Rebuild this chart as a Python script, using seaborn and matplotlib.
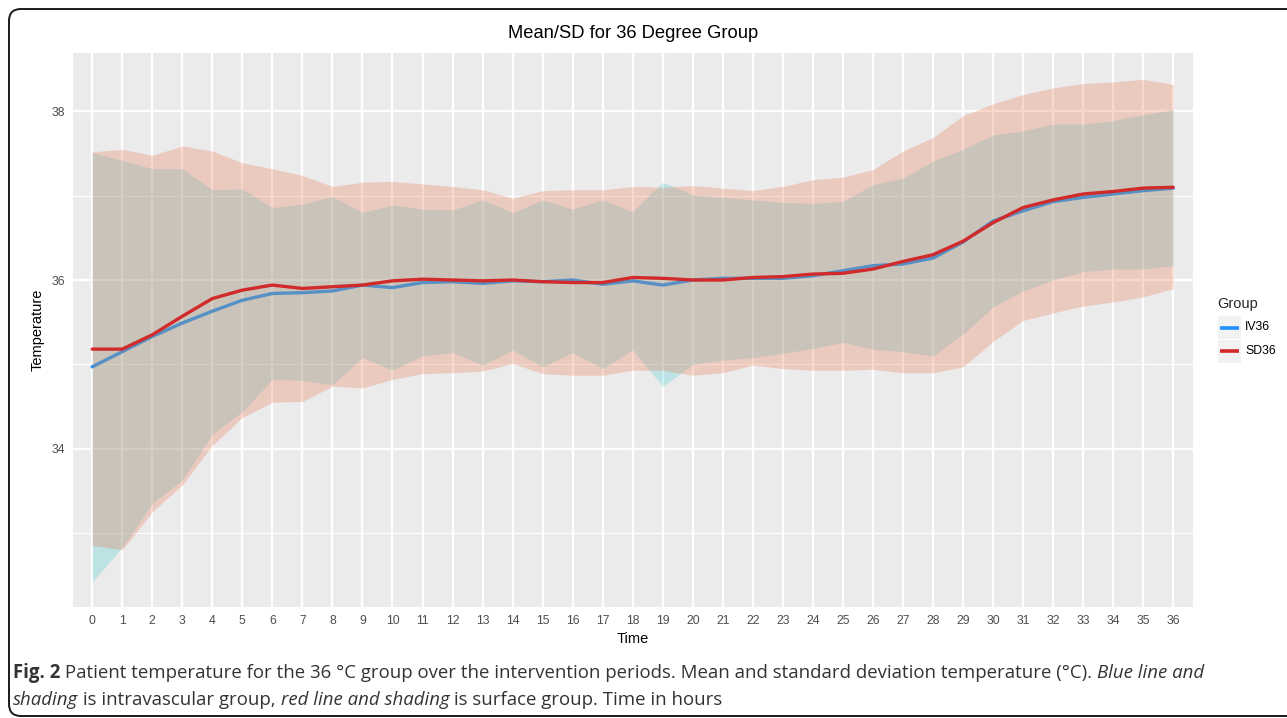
import matplotlib
matplotlib.use("Agg")
import matplotlib.pyplot as plt
import seaborn as sns
import pandas as pd
from matplotlib.patches import FancyBboxPatch, Rectangle
from matplotlib.lines import Line2D
from matplotlib.transforms import IdentityTransform

# Data: mean and mean +/- SD per hour
hours = list(range(37))

iv_mean = [34.97, 35.15, 35.33, 35.49, 35.63, 35.76, 35.84, 35.85, 35.87, 35.94,
           35.91, 35.97, 35.98, 35.96, 35.99, 35.98, 36.00, 35.95, 35.99, 35.94,
           36.00, 36.02, 36.02, 36.02, 36.05, 36.11, 36.17, 36.19, 36.26, 36.45,
           36.70, 36.82, 36.93, 36.98, 37.02, 37.06, 37.09]
iv_upper = [37.51, 37.42, 37.32, 37.32, 37.07, 37.08, 36.86, 36.90, 36.99, 36.80,
            36.89, 36.84, 36.83, 36.95, 36.80, 36.95, 36.84, 36.95, 36.81, 37.16,
            37.01, 36.98, 36.95, 36.92, 36.91, 36.93, 37.13, 37.21, 37.41, 37.55,
            37.72, 37.77, 37.85, 37.85, 37.89, 37.96, 38.02]
iv_lower = [32.42, 32.83, 33.35, 33.63, 34.17, 34.44, 34.82, 34.81, 34.76, 35.08,
            34.93, 35.10, 35.14, 34.99, 35.17, 34.97, 35.14, 34.95, 35.17, 34.74,
            35.00, 35.05, 35.08, 35.13, 35.19, 35.26, 35.18, 35.15, 35.10, 35.36,
            35.68, 35.87, 36.00, 36.10, 36.13, 36.13, 36.17]

sd_mean = [35.18, 35.18, 35.35, 35.57, 35.78, 35.88, 35.94, 35.90, 35.92, 35.94,
           35.99, 36.01, 36.00, 35.99, 36.00, 35.98, 35.97, 35.97, 36.03, 36.02,
           36.00, 36.00, 36.03, 36.04, 36.07, 36.08, 36.13, 36.22, 36.30, 36.46,
           36.68, 36.86, 36.95, 37.02, 37.05, 37.09, 37.10]
sd_upper = [37.52, 37.55, 37.48, 37.59, 37.53, 37.39, 37.32, 37.24, 37.11, 37.16,
            37.17, 37.14, 37.11, 37.07, 36.97, 37.06, 37.07, 37.07, 37.11, 37.10,
            37.12, 37.09, 37.06, 37.11, 37.19, 37.22, 37.31, 37.53, 37.69, 37.95,
            38.09, 38.20, 38.28, 38.33, 38.35, 38.38, 38.32]
sd_lower = [32.85, 32.80, 33.25, 33.57, 34.04, 34.37, 34.55, 34.56, 34.74, 34.72,
            34.82, 34.89, 34.90, 34.92, 35.01, 34.89, 34.87, 34.87, 34.93, 34.93,
            34.87, 34.90, 34.99, 34.95, 34.93, 34.93, 34.94, 34.90, 34.90, 34.97,
            35.27, 35.52, 35.61, 35.69, 35.74, 35.80, 35.90]

groups = ["IV36", "SD36"]
y_major = [34, 36, 38]
y_minor = [33, 35, 37]

df = pd.DataFrame({
    "Time": hours * 2,
    "Temperature": iv_mean + sd_mean,
    "Group": ["IV36"] * len(hours) + ["SD36"] * len(hours),
})

W, H = 1287, 718
line_colors = {"IV36": "#1e90ff", "SD36": "#d12a2a"}

sns.set_theme(style="darkgrid")
plt.rcParams["font.family"] = ["Liberation Sans", "DejaVu Sans"]

fig = plt.figure(figsize=(W / 100, H / 100), dpi=100, facecolor="white")
ax = fig.add_axes([73 / W, (H - 607) / H, 1120 / W, 554 / H])
ax.set_facecolor("#ebebeb")

# ribbons (SD shading)
ax.fill_between(hours, iv_lower, iv_upper, color="#00bfc4", alpha=0.2, lw=0, zorder=2)
ax.fill_between(hours, sd_lower, sd_upper, color="#e97c5a", alpha=0.3, lw=0, zorder=3)

# mean lines
sns.lineplot(data=df[df["Group"] == "IV36"], x="Time", y="Temperature",
             color=line_colors["IV36"], lw=2.4, ax=ax, zorder=1.8)
sns.lineplot(data=df[df["Group"] == "SD36"], x="Time", y="Temperature",
             color=line_colors["SD36"], lw=2.4, ax=ax, zorder=4)

ax.set_xlim(-0.64, 36.66)
ax.set_ylim(32.121, 38.693)
ax.set_xticks(hours)
ax.set_yticks(y_major)
ax.set_yticks(y_minor, minor=True)
ax.set_axisbelow(True)
ax.grid(which="major", color="white", lw=1.7)
ax.grid(which="minor", axis="y", color="white", lw=0.8)
ax.grid(which="minor", axis="x", visible=False)
for s in ax.spines.values():
    s.set_visible(False)
ax.tick_params(axis="both", which="major", length=3, width=1.1, color="#333333",
               labelcolor="#4d4d4d", labelsize=8.8, pad=2.5)
ax.tick_params(axis="both", which="minor", length=0)

ax.set_xlabel("Time", fontsize=10.5, color="black", labelpad=4)
ax.set_ylabel("Temperature", fontsize=10.5, color="black", labelpad=5)

fig.text(633 / W, 1 - 33 / H, "Mean/SD for 36 Degree Group", ha="center",
         va="center", fontsize=13.2, color="black")

# legend, ggplot style
fig.text(1217 / W, 1 - 304 / H, "Group", ha="left", va="center", fontsize=10.5)
for i, g in enumerate(groups):
    top = 316 + i * 24
    fig.add_artist(Rectangle((1218 / W, 1 - (top + 23) / H), 23 / W, 23 / H,
                             transform=fig.transFigure, facecolor="#f2f2f2",
                             edgecolor="none"))
    yc = 1 - (top + 11.5) / H
    fig.add_artist(Line2D([1220 / W, 1239 / W], [yc, yc], transform=fig.transFigure,
                          color=line_colors[g], lw=2.6, solid_capstyle="butt"))
    fig.text(1245 / W, yc, g, ha="left", va="center", fontsize=8.8, color="black")

# rounded frame around the figure
fig.add_artist(FancyBboxPatch((9, 2), 1400, H - 11, boxstyle="round,pad=0,rounding_size=12",
                              transform=IdentityTransform(), facecolor="none",
                              edgecolor="#1a1a1a", lw=1.4))

# caption with mixed styles
cap_font = ["Open Sans", "DejaVu Sans"]
cap_size = 13.4
caption = [
    [("Fig. 2", "bold", "normal"),
     (" Patient temperature for the 36 °C group over the intervention periods. "
      "Mean and standard deviation temperature (°C). ", "normal", "normal"),
     ("Blue line and", "normal", "italic")],
    [("shading", "normal", "italic"),
     (" is intravascular group, ", "normal", "normal"),
     ("red line and shading", "normal", "italic"),
     (" is surface group. Time in hours", "normal", "normal")],
]
renderer = fig.canvas.get_renderer()
for row, base in zip(caption, [678, 705]):
    x = 13
    for txt, wt, st in row:
        t = fig.text(x / W, 1 - base / H, txt, ha="left", va="baseline",
                     fontsize=cap_size, fontweight=wt, fontstyle=st,
                     family=cap_font, color="#333333")
        bb = t.get_window_extent(renderer=renderer)
        x += bb.width

fig.savefig("out.png", dpi=100, facecolor="white")
